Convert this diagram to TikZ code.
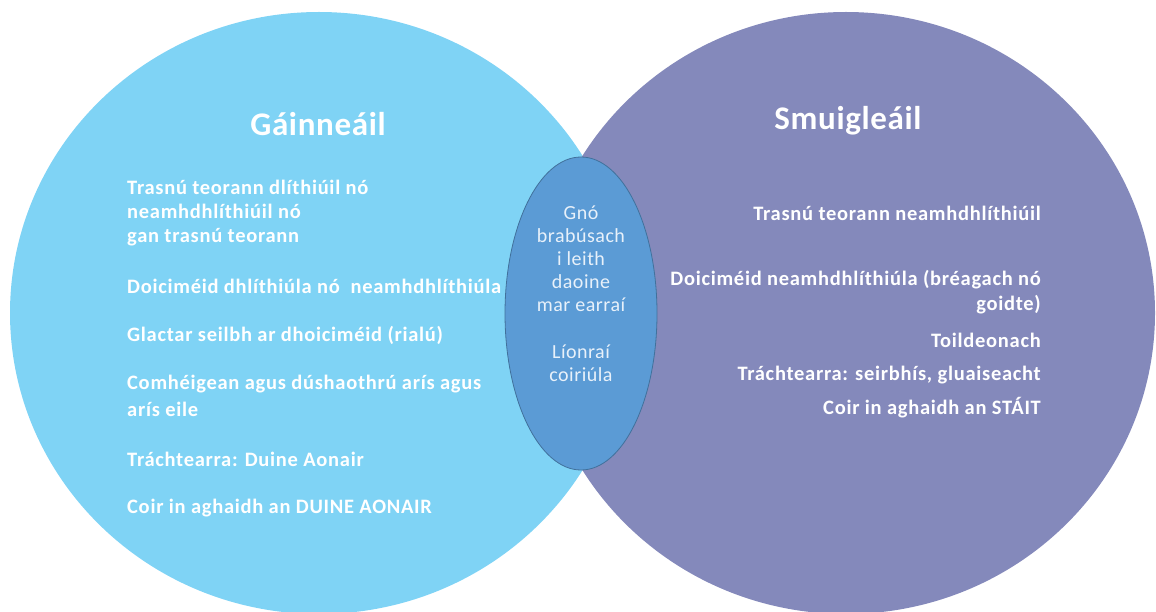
\documentclass[tikz,border=0pt]{standalone}
\usepackage{fontspec}
\setmainfont{Carlito}
\newfontfamily\bodyfont[LetterSpace=3.5]{Carlito}
\newfontfamily\ttlfont[LetterSpace=2]{Carlito}
\newfontfamily\midfont[LetterSpace=2.5]{Carlito}
\usetikzlibrary{shapes.geometric}
\definecolor{lblue}{HTML}{7FD3F5}
\definecolor{rpurp}{HTML}{8489BB}
\definecolor{mblue}{HTML}{5B9BD5}
\definecolor{mline}{HTML}{41719C}
\definecolor{mtext}{HTML}{E8F1FA}
\tikzset{
  circ/.style={ellipse, inner sep=0pt, minimum width=618pt, minimum height=602pt},
  ttl/.style={text=white, font=\ttlfont\bfseries\fontsize{33}{36}\selectfont, inner sep=0pt},
  ltxt/.style={text=white, font=\bodyfont\bfseries\fontsize{20.5}{24}\selectfont, inner sep=0pt, anchor=west},
  rtxt/.style={text=white, font=\bodyfont\bfseries\fontsize{20.5}{24}\selectfont, inner sep=0pt, anchor=east},
  mtxt/.style={text=mtext, font=\midfont\fontsize{20}{23}\selectfont, inner sep=0pt, align=center}
}
\begin{document}
\begin{tikzpicture}[x=1pt,y=-1pt]
\useasboundingbox (0,0) rectangle (1156,612);
\node[circ, fill=lblue] (L) at (319,313) {};
\node[circ, fill=rpurp] (R) at (846,313) {};
\node[ellipse, inner sep=0pt, minimum width=152pt, minimum height=313pt, fill=mblue, draw=mline, line width=0.8pt] (M) at (581,313.5) {};
\node[ttl] (lt) at (318,124) {Gáinneáil};
\node[ttl] (rt) at (848,121) {Smuigleáil};
\node[ltxt] (l1) at (127,187) {Trasnú teorann dlíthiúil nó};
\node[ltxt] (l2) at (127,211) {neamhdhlíthiúil nó};
\node[ltxt] (l3) at (127,237) {gan trasnú teorann};
\node[ltxt] (l4) at (127,286) {Doiciméid dhlíthiúla nó\ \ neamhdhlíthiúla};
\node[ltxt] (l5) at (127,335) {Glactar seilbh ar dhoiciméid (rialú)};
\node[ltxt] (l6) at (127,384) {Comhéigean agus dúshaothrú arís agus};
\node[ltxt] (l7) at (127,409) {arís eile};
\node[ltxt] (l8) at (127,459) {Tráchtearra: Duine Aonair};
\node[ltxt] (l9) at (127,508) {Coir in aghaidh an DUINE AONAIR};
\node[rtxt] (r1) at (1041,213) {Trasnú teorann neamhdhlíthiúil};
\node[rtxt] (r2) at (1041,280) {Doiciméid neamhdhlíthiúla (bréagach nó};
\node[rtxt] (r3) at (1041,305) {goidte)};
\node[rtxt] (r4) at (1041,340) {Toildeonach};
\node[rtxt] (r5) at (1041,375) {Tráchtearra: seirbhís, gluaiseacht};
\node[rtxt] (r6) at (1041,408) {Coir in aghaidh an STÁIT};
\node[mtxt] (m1) at (581,259) {Gnó\\brabúsach\\i leith\\daoine\\mar earraí};
\node[mtxt] (m2) at (581,363) {Líonraí\\coiriúla};
\end{tikzpicture}
\end{document}
